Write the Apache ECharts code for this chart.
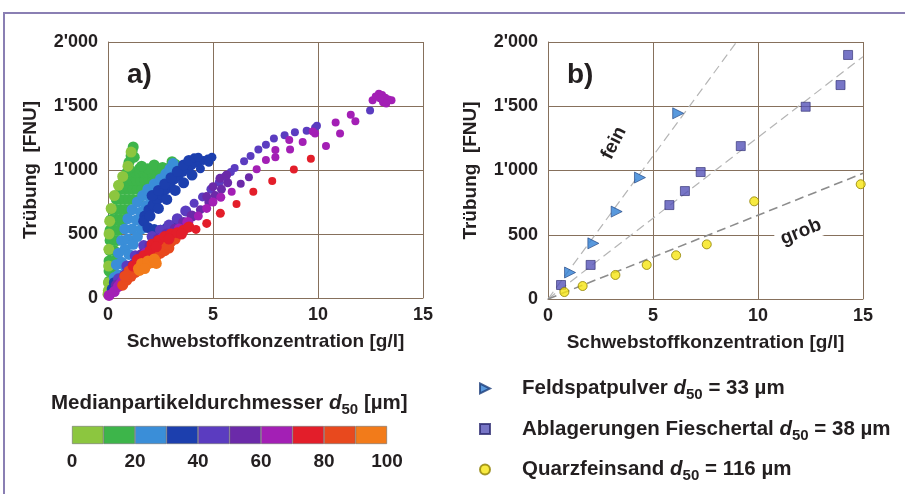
<!DOCTYPE html>
<html>
<head>
<meta charset="utf-8">
<script src="https://cdn.jsdelivr.net/npm/echarts/dist/echarts.min.js"></script>
<style>
  html, body { margin: 0; padding: 0; background: #fff; }
  #main { width: 905px; height: 494px; }
</style>
</head>
<body>
<div id="main"></div>
<script>
// Panel a) : Messpunkte nach Klasse d50 (0-10, 10-20, ... 90-100 µm)
var pts_0_10 = [[0.0,30],[0.02,60],[0.02,120],[0.03,250],[0.04,380],[0.05,500],[0.08,600],[0.15,700],[0.3,800],[0.5,880],[0.7,950],[0.95,1030],[1.1,1140]];
var pts_10_20 = [[0.05,50],[0.15,50],[0.05,130],[0.2,130],[0.05,210],[0.25,210],[0.05,290],[0.28,290],[0.08,370],[0.3,370],
  [0.1,450],[0.3,450],[0.45,450],[0.1,530],[0.3,530],[0.5,530],[0.12,610],[0.35,610],[0.55,610],[0.7,610],
  [0.2,690],[0.4,690],[0.6,690],[0.8,690],[1.0,690],[0.4,770],[0.6,770],[0.8,770],[1.0,770],[1.2,770],[1.45,770],
  [0.6,850],[0.8,850],[1.0,850],[1.2,850],[1.4,850],[1.6,850],[1.85,850],
  [0.75,920],[0.95,920],[1.15,920],[1.35,920],[1.55,920],[1.75,920],[1.95,920],[2.15,920],[2.35,920],
  [0.9,980],[1.1,980],[1.3,980],[1.5,980],[1.7,980],[1.9,980],[2.1,980],[2.3,980],[2.5,980],[2.7,980],[2.9,980],
  [1.0,1010],[1.5,1010],[1.9,1010],[2.4,1010],[2.8,1010],[3.05,1010],
  [1.0,1060],[1.1,1110],[1.15,1150],[1.2,1180],[1.25,1100],[1.6,1030],[2.2,1040],[2.6,1020],[3.05,1065],[3.2,1045]];
var pts_20_30 = [[0.2,60],[0.3,160],[0.4,260],[0.5,350],[0.65,450],[0.8,540],[0.95,620],[1.15,690],[1.4,750],[1.65,800],
  [1.9,850],[2.2,890],[2.5,930],[2.75,970],[2.95,1010],[3.1,1050],
  [0.35,80],[0.5,180],[0.65,280],[0.8,380],[0.95,460],[1.15,540],[1.35,610],[1.55,670],[1.8,720],[2.05,770],[2.3,820],[2.6,860],[2.9,900],
  [0.6,150],[0.8,250],[1.0,340],[1.2,420],[1.4,480],[1.6,540]];
var pts_30_40 = [[1.75,640],[1.95,690],[2.15,730],[2.35,770],[2.55,810],[2.75,850],[2.95,890],[3.15,930],[3.35,960],[3.55,990],
  [3.75,1020],[3.95,1040],[4.15,1055],[4.35,1065],[4.55,1075],[4.75,1085],[4.95,1100],
  [2.1,800],[2.4,840],[2.7,890],[3.0,940],[3.3,990],[3.6,1040],[3.85,1075],[4.1,1095],[4.3,1100],
  [1.7,600],[2.0,640],[2.4,700],[2.8,770],[3.2,840],[3.6,900],[4.0,960],[4.4,1010],[4.8,1060],
  [1.9,550],[2.2,535],[2.5,530],[2.8,545],[3.1,565],[0.2,70],[0.3,120]];
var pts_40_50 = [[0.5,150],[0.9,250],[1.3,330],[1.7,410],[2.1,480],[2.5,530],[2.9,570],[3.3,620],[3.7,680],[4.1,740],
  [4.5,790],[4.9,850],[5.3,905],[5.6,950],[5.85,985],[6.03,1016],[6.48,1068],[6.79,1109],[7.16,1161],[7.52,1198],
  [7.90,1247],[8.41,1271],[8.90,1294],[9.46,1307],[9.86,1331],[9.95,1345],[12.48,1464]];
var pts_50_60 = [[0.4,100],[0.8,180],[1.2,260],[1.6,340],[2.0,410],[2.4,460],[2.8,500],[3.2,540],[3.6,590],[4.0,640],
  [4.4,690],[4.8,750],[5.1,800],[5.4,850],[5.7,900],[4.7,792],[5.0,870],[5.33,935],[5.65,961],[6.32,893],[6.71,943]];
var pts_60_70 = [[0.05,20],[0.3,50],[0.5,90],[0.7,130],[0.9,165],[0.6,110],[1.0,190],[1.4,270],[1.8,350],[2.2,420],
  [2.6,470],[3.0,500],[3.4,540],[3.8,590],[4.3,640],[4.7,700],[5.0,750],[5.37,787],[5.89,831],[7.08,1005],
  [7.52,1078],[7.97,1156],[7.97,1099],[8.67,1161],[8.63,1234],[9.27,1219],[9.86,1286],[9.75,1300],[10.38,1188],
  [10.84,1372],[11.05,1286],[11.56,1432],[11.78,1380],[12.6,1545],[12.75,1575],[12.9,1595],[13.05,1585],
  [13.2,1565],[13.35,1550],[13.5,1545],[13.1,1530],[13.25,1520],[12.95,1560]];
var pts_70_80 = [[1.2,250],[1.4,300],[1.7,330],[2.0,370],[2.1,420],[2.4,450],[2.7,480],[3.0,500],[3.3,510],[3.6,530],
  [3.85,555],[2.3,400],[2.9,460],[3.5,500],[4.19,536],[4.70,583],[5.35,662],[6.12,734],[6.92,830],[7.82,915],
  [8.85,1003],[9.66,1088]];
var pts_80_90 = [[0.7,100],[0.9,140],[1.1,170],[1.3,200],[1.5,230],[1.7,260],[1.9,290],[2.1,310],[2.3,330],[2.5,350],
  [2.7,370],[2.9,390],[1.0,210],[1.2,240],[1.4,270],[1.6,300],[1.8,330],[2.0,350],[2.2,370],[2.5,400],[2.8,420],
  [3.0,440],[0.8,170],[3.2,460]];
var pts_90_100 = [[1.45,230],[1.65,245],[1.85,260],[2.05,275],[2.25,290],[1.6,270],[1.9,290],[2.2,305],[1.5,215],[2.3,270],[1.75,230]];

var classPoints = [pts_0_10, pts_10_20, pts_20_30, pts_30_40, pts_40_50, pts_50_60, pts_60_70, pts_70_80, pts_80_90, pts_90_100];
var classColors = ['#8cc63f','#3db54a','#3a8ed8','#1c3fae','#5b3cc0','#6b2aa9','#a31fb5','#e31e2a','#e8491e','#f27b1a'];
var classSteps = [10,10,10,10,10,10,10,10,10,10];   // Farbskala d50 [µm]
var drawOrder = [1,0,2,3,4,5,6,8,7,9];

// Panel b) : Laborversuche
var feldspat = [[1.05,206],[2.16,433],[3.27,680],[4.38,945],[6.2,1445]];
var fieschertal = [[0.62,109],[2.03,265],[5.78,731],[6.52,840],[7.27,988],[9.18,1190],[12.27,1496],[13.93,1665],[14.29,1899]];
var quarz = [[0.78,54],[1.65,101],[3.21,187],[4.70,265],[6.10,340],[7.56,425],[9.82,760],[14.89,893]];
var trendFein = [[0,0],[8.98,2000]];
var trendMittel = [[0,0],[15,1886]];
var trendGrob = [[0,0],[15,978]];
var legendNames = ['Feldspatpulver','Ablagerungen Fieschertal','Quarzfeinsand'];
var legendD50 = [33, 38, 116];

var xTicks = [0,5,10,15];
var yTickLabels = ['0','500',"1'000","1'500","2'000"];

var FONT = '"Liberation Sans", Arial, sans-serif';
var TXT = '#231f20';
var GRIDC = '#86705c';
var TRI_RIGHT = 'path://M0,0 L10,5 L0,10 Z';

function yFmt(v){ return yTickLabels[Math.round(v/500)]; }
// dichte Punktwolken groesser, Einzelpunkte kleiner
function dotSize(v){ return v[0] <= 4.0 ? 11 : (v[0] <= 5.8 ? 9 : 8); }

function mainX(idx){
  return {
    type:'value', gridIndex:idx, min:xTicks[0], max:xTicks[xTicks.length-1], interval:5,
    name:'Schwebstoffkonzentration [g/l]', nameLocation:'middle', nameGap:34,
    nameTextStyle:{fontFamily:FONT, fontWeight:'bold', fontSize:19, color:TXT},
    axisLine:{lineStyle:{color:GRIDC, width:1}}, axisTick:{show:false},
    axisLabel:{fontFamily:FONT, fontWeight:'bold', fontSize:18, color:TXT, margin:8},
    splitLine:{show:true, lineStyle:{color:GRIDC, width:1}}
  };
}
function mainY(idx){
  return {
    type:'value', gridIndex:idx, min:0, max:2000, interval:500,
    name:'Trübung  [FNU]', nameLocation:'middle', nameGap:68, nameRotate:90,
    nameTextStyle:{fontFamily:FONT, fontWeight:'bold', fontSize:19, color:TXT},
    axisLine:{lineStyle:{color:GRIDC, width:1}}, axisTick:{show:false},
    axisLabel:{fontFamily:FONT, fontWeight:'bold', fontSize:18, color:TXT, margin:10, formatter:yFmt},
    splitLine:{show:true, lineStyle:{color:GRIDC, width:1}}
  };
}

var series = [];
drawOrder.forEach(function(k){
  series.push({
    type:'scatter', xAxisIndex:0, yAxisIndex:0, data:classPoints[k],
    symbol:'circle', symbolSize:dotSize, silent:true,
    itemStyle:{color:classColors[k], opacity:1, borderWidth:0}
  });
});
// Farbskala als gestapelte Balken
classSteps.forEach(function(s, k){
  series.push({
    type:'bar', xAxisIndex:2, yAxisIndex:2, stack:'cb', data:[s], barWidth:'100%', silent:true,
    itemStyle:{color:classColors[k], borderColor:'#6d6d6d', borderWidth:0.6}
  });
});
// Trendlinien
[[trendFein,'#b5b5b5',1.2],[trendMittel,'#b5b5b5',1.2],[trendGrob,'#8c8c8c',1.6]].forEach(function(t){
  series.push({
    type:'line', xAxisIndex:1, yAxisIndex:1, data:t[0], showSymbol:false, silent:true, z:1,
    lineStyle:{color:t[1], width:t[2], type:[9,5]}
  });
});
series.push({
  name:legendNames[0], type:'scatter', xAxisIndex:1, yAxisIndex:1, data:feldspat,
  symbol:TRI_RIGHT, symbolSize:11,
  itemStyle:{color:'#2f80d4', borderColor:'#1d3d7a', borderWidth:0.8}
});
series.push({
  name:legendNames[1], type:'scatter', xAxisIndex:1, yAxisIndex:1, data:fieschertal,
  symbol:'rect', symbolSize:9,
  itemStyle:{color:'#5552b8', borderColor:'#2c2a70', borderWidth:0.8}
});
series.push({
  name:legendNames[2], type:'scatter', xAxisIndex:1, yAxisIndex:1, data:quarz,
  symbol:'circle', symbolSize:9,
  itemStyle:{color:'#f6e512', borderColor:'#8f8000', borderWidth:1}
});

function richTxt(fs){
  return {
    t:{fontFamily:FONT, fontWeight:'bold', fontSize:fs, color:TXT},
    d:{fontFamily:FONT, fontWeight:'bold', fontStyle:'italic', fontSize:fs, color:TXT},
    s:{fontFamily:FONT, fontWeight:'bold', fontSize:15, color:TXT, padding:[13,0,0,0]}
  };
}

var chart = echarts.init(document.getElementById('main'));
chart.setOption({
  backgroundColor:'#fff',
  animation:false,
  grid:[
    {left:108, top:42, width:315, height:256, outerBoundsMode:'none'},
    {left:548, top:42, width:315, height:257, outerBoundsMode:'none'},
    {left:72, top:426, width:315, height:18, outerBoundsMode:'none'}
  ],
  xAxis:[ mainX(0), mainX(1), {
    type:'value', gridIndex:2, min:0, max:100, interval:20,
    axisLine:{show:false}, axisTick:{show:false}, splitLine:{show:false},
    axisLabel:{fontFamily:FONT, fontWeight:'bold', fontSize:19, color:TXT, margin:8}
  }],
  yAxis:[ mainY(0), mainY(1), {
    type:'category', gridIndex:2, data:['d50'], show:false
  }],
  title:{
    text:'{t|Medianpartikeldurchmesser }{d|d}{s|50}{t| [µm]}',
    left:46, top:384,
    textStyle:{rich:richTxt(20.5)}
  },
  legend:{
    orient:'vertical', left:474, top:373, itemGap:16,
    itemWidth:10, itemHeight:10,
    data:[
      {name:legendNames[0], icon:TRI_RIGHT},
      {name:legendNames[1], icon:'rect'},
      {name:legendNames[2], icon:'circle'}
    ],
    formatter:function(name){
      var i = legendNames.indexOf(name);
      return '{t|' + name + ' }{d|d}{s|50}{t| = ' + legendD50[i] + ' µm}';
    },
    textStyle:{rich:richTxt(20.5), padding:[0,0,0,27]}
  },
  graphic:[
    {type:'line', shape:{x1:3, y1:13, x2:905, y2:13}, style:{stroke:'#8a7fb3', lineWidth:2}},
    {type:'line', shape:{x1:4, y1:13, x2:4, y2:494}, style:{stroke:'#8a7fb3', lineWidth:2}},
    {type:'text', left:127, top:61, style:{text:'a)', font:'bold 28px "Liberation Sans", Arial', fill:TXT}},
    {type:'text', left:567, top:61, style:{text:'b)', font:'bold 28px "Liberation Sans", Arial', fill:TXT}},
    {type:'text', x:614, y:143, rotation:1.1, z:10,
      style:{text:'fein', font:'bold 19px "Liberation Sans", Arial', fill:TXT, align:'center', verticalAlign:'middle'}},
    {type:'text', x:801, y:232, rotation:0.38, z:10,
      style:{text:'grob', font:'bold 19px "Liberation Sans", Arial', fill:TXT, align:'center', verticalAlign:'middle',
        backgroundColor:'#fff', padding:[2,5]}}
  ],
  series:series
});
</script>
</body>
</html>
